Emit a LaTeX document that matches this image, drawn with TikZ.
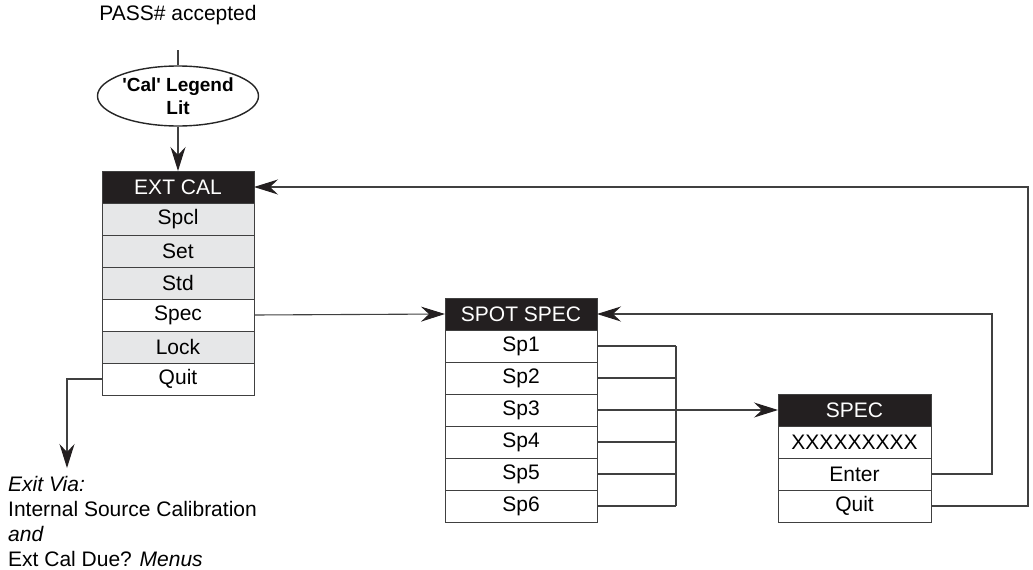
\documentclass[tikz,border=0pt]{standalone}
\usepackage{fontspec}
\setmainfont{Liberation Sans}
\usepackage{xcolor}
\usepackage{tikz}
\usetikzlibrary{arrows.meta,positioning,calc,shapes.geometric}
\definecolor{MenuHead}{HTML}{231F20}
\definecolor{MenuGrey}{HTML}{E6E7E8}
\definecolor{MenuEdge}{HTML}{404040}
\newcommand{\menufont}{\fontsize{21}{25}\selectfont}

\begin{document}
\begin{tikzpicture}[
    x=1pt, y=-1pt,
    head/.style={draw=MenuEdge, fill=MenuHead, text=white, minimum width=152pt,
      minimum height=32pt, inner sep=0pt, outer sep=0pt, font=\menufont},
    item/.style={draw=MenuEdge, fill=white, minimum width=152pt,
      minimum height=32pt, inner sep=0pt, outer sep=0pt, font=\menufont},
    greyitem/.style={item, fill=MenuGrey},
    wire/.style={line width=1.1pt, color=MenuEdge},
    arr/.style={-{Stealth[length=24pt,width=15pt,inset=8pt,color=MenuHead]}, line width=1.1pt, color=MenuEdge},
    node distance=0pt
  ]
    \useasboundingbox (0,0) rectangle (1033,570);
    % entry
    \node[font=\menufont] (pass) at (178,15) {PASS\# accepted};
    \node[draw=black!85, line width=1.4pt, ellipse, minimum width=161pt, minimum height=60pt,
      inner sep=0pt, align=center, font=\fontsize{19}{23}\selectfont\bfseries]
      (legend) at (178,96) {\textquotesingle Cal\textquotesingle{} Legend\\Lit};
    % EXT CAL menu
    \node[head] (extcal) at (178,187) {EXT CAL};
    \node[greyitem, below=of extcal] (spcl) {Spcl};
    \node[greyitem, below=of spcl] (set) {Set};
    \node[greyitem, below=of set] (std) {Std};
    \node[item, below=of std] (spec) {Spec};
    \node[greyitem, below=of spec] (lock) {Lock};
    \node[item, below=of lock] (quit) {Quit};
    % SPOT SPEC menu
    \node[head] (spotspec) at (521,314) {SPOT SPEC};
    \node[item, below=of spotspec] (sp1) {Sp1};
    \node[item, below=of sp1] (sp2) {Sp2};
    \node[item, below=of sp2] (sp3) {Sp3};
    \node[item, below=of sp3] (sp4) {Sp4};
    \node[item, below=of sp4] (sp5) {Sp5};
    \node[item, below=of sp5] (sp6) {Sp6};
    % SPEC menu
    \node[head, minimum width=153pt] (spechead) at (854.5,410) {SPEC};
    \node[item, minimum width=153pt, below=of spechead] (value) {XXXXXXXXX};
    \node[item, minimum width=153pt, below=of value] (enter) {Enter};
    \node[item, minimum width=153pt, below=of enter] (specquit) {Quit};
    % exit text
    \node[anchor=north west, inner sep=0pt, align=left, font=\menufont] (exit) at (8,476)
      {\textit{Exit Via:}\\Internal Source Calibration\\\textit{and}\\Ext Cal Due? \textit{Menus}};
    \coordinate (exitdrop) at (67,468);
    \coordinate (bus) at (676,0);
    \coordinate (loopa) at (992,0);
    \coordinate (loopb) at (1028,0);
    % connectors
    \draw[wire] ([yshift=-22pt]pass.south) -- (legend.north);
    \draw[arr] (legend) -- (extcal);
    \draw[arr] (spec.east) -- (spotspec.west);
    \draw[arr] (quit.west) -| (exitdrop);
    \foreach \r in {sp1,sp2,sp4,sp5,sp6}
      \draw[wire] (\r.east) -- (\r.east -| bus);
    \draw[wire] (sp1.east -| bus) -- (sp6.east -| bus);
    \draw[arr] (sp3.east) -- (spechead.west);
    \draw[arr] (enter.east) -- (enter.east -| loopa) |- (spotspec.east);
    \draw[arr] (specquit.east) -- (specquit.east -| loopb) |- (extcal.east);
  \end{tikzpicture}
\end{document}
